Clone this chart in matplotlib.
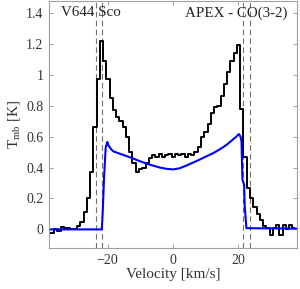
import numpy as np
import matplotlib
matplotlib.use("Agg")
import matplotlib.pyplot as plt

plt.rcParams['font.family'] = ['Liberation Serif', 'DejaVu Serif']
plt.rcParams['mathtext.fontset'] = 'custom'
plt.rcParams['mathtext.rm'] = 'Liberation Serif'

# observed CO(3-2) spectrum, 1 km/s channels
vel = np.arange(-38, 38) + 0.1
tmb = [-0.02, -0.02, 0.00, -0.01, 0.015, 0.01, 0.01, 0.00, 0.005, 0.02,
       0.05, 0.11, 0.20, 0.37, 0.66, 0.97, 1.22, 1.09, 0.97, 0.85,
       0.77, 0.73, 0.70, 0.66, 0.60, 0.50, 0.43, 0.37, 0.39, 0.40,
       0.43, 0.46, 0.48, 0.47, 0.49, 0.47, 0.48, 0.49, 0.47, 0.49,
       0.48, 0.49, 0.47, 0.49, 0.48, 0.50, 0.53, 0.60, 0.63, 0.68,
       0.75, 0.79, 0.80, 0.86, 0.94, 1.02, 1.09, 1.14, 1.19, 0.78,
       0.47, 0.27, 0.20, 0.145, 0.10, 0.06, 0.02, 0.01, -0.035, 0.01,
       0.03, -0.035, 0.03, 0.00, 0.03, 0.01]

# model profile
model_v = [-38, -21.8, -21.5, -21.1, -20.6, -20.1, -19.8, -19.0, -18.3, -17.0,
           -15.0, -13.0, -10.0, -7.0, -4.0, -2.0, 0.0, 2.0, 4.0, 7.0,
           10.0, 12.5, 14.5, 16.5, 18.0, 19.4, 20.2, 20.7, 21.0, 21.2,
           21.3, 21.8, 22.0, 22.1, 22.5, 38]
model_t = [0.0, 0.0, 0.12, 0.34, 0.53, 0.566, 0.545, 0.52, 0.505, 0.495,
           0.48, 0.465, 0.44, 0.418, 0.40, 0.392, 0.388, 0.395, 0.412, 0.44,
           0.47, 0.495, 0.52, 0.548, 0.575, 0.60, 0.617, 0.60, 0.57, 0.38,
           0.32, 0.29, 0.145, 0.12, 0.008, 0.005]

vlines = [-23.6, -21.6, 21.6, 23.6]

fig = plt.figure(figsize=(3.0, 2.89), dpi=100)
ax = fig.add_axes([0.163, 0.142, 0.827, 0.856])

for v in vlines:
    ax.axvline(v, color='#707070', ls=(0, (5, 3)), lw=0.8)
ax.step(vel, tmb, where='mid', color='black', lw=1.4)
ax.plot(model_v, model_t, color='#0000ff', lw=1.5)

ax.set_xlim(-38, 38)
ax.set_ylim(-0.12, 1.48)
ax.set_xticks([-20, 0, 20])
ax.set_yticks([0, 0.2, 0.4, 0.6, 0.8, 1.0, 1.2, 1.4])
ax.set_yticklabels(['0', '0.2', '0.4', '0.6', '0.8', '1', '1.2', '1.4'])
ax.tick_params(direction='in', top=True, right=True, length=3, width=0.6,
               color='#909090', labelcolor='#333333', labelsize=10, pad=4)
for s in ax.spines.values():
    s.set_color('#a0a0a0')
    s.set_linewidth(0.8)

ax.set_xlabel('Velocity [km/s]', fontsize=11, color='#333333', labelpad=1)
ax.set_ylabel(r'T$_{\rm mb}$ [K]', fontsize=11, color='#333333', labelpad=2)

ax.text(0.05, 0.95, 'V644 Sco', transform=ax.transAxes, fontsize=10.8,
        color='#222222', ha='left', va='center')
ax.text(0.963, 0.95, 'APEX - CO(3-2)', transform=ax.transAxes, fontsize=10.8,
        color='#222222', ha='right', va='center')

fig.savefig('out.png', dpi=100)
